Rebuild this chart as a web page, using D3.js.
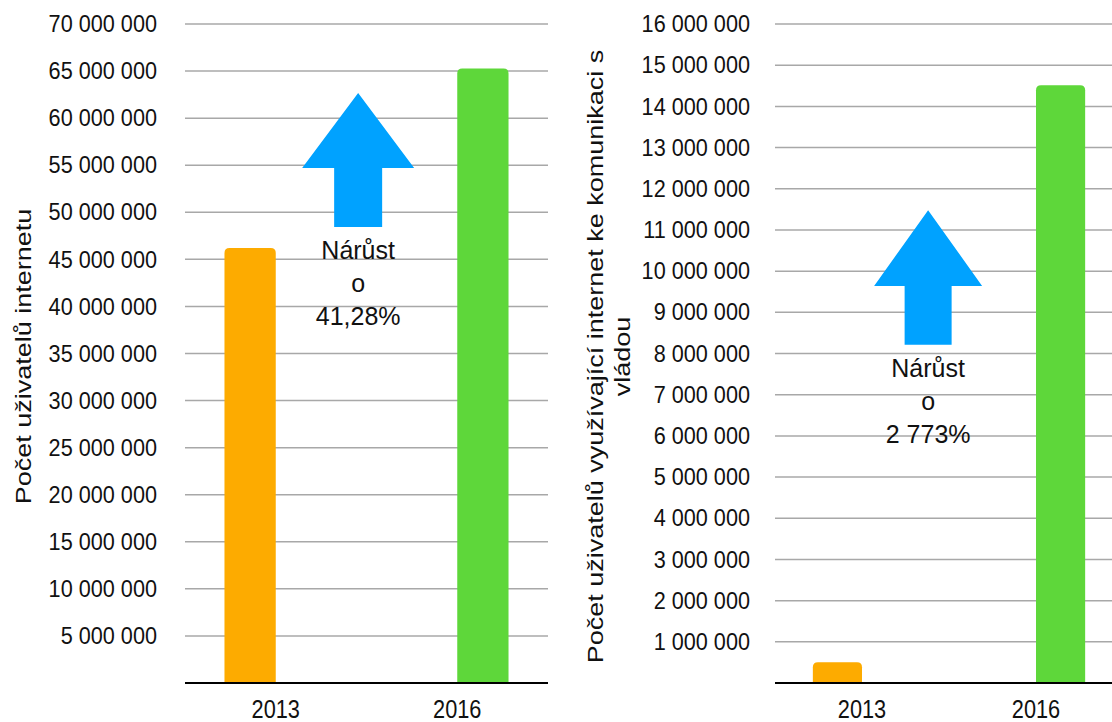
<!DOCTYPE html>
<html>
<head>
<meta charset="utf-8">
<style>
  body { margin: 0; background: #fff; }
  svg text { font-family: "Liberation Sans", Arial, sans-serif; fill: #111; }
</style>
</head>
<body>
<svg></svg>
<script src="https://d3js.org/d3.v7.min.js"></script>
<script>
const width = 1112;
const height = 722;

const categories = ['2013', '2016'];

// chart 1: internet users
const usersValues = [46200000, 65272000];
const usersTicks = [5000000, 10000000, 15000000, 20000000, 25000000, 30000000, 35000000,
  40000000, 45000000, 50000000, 55000000, 60000000, 65000000, 70000000];
const usersTitle = ['Počet uživatelů internetu'];
const usersNote = ['Nárůst', 'o', '41,28%'];

// chart 2: users talking to the government online
const govValues = [505000, 14510000];
const govTicks = [1000000, 2000000, 3000000, 4000000, 5000000, 6000000, 7000000, 8000000,
  9000000, 10000000, 11000000, 12000000, 13000000, 14000000, 15000000, 16000000];
const govTitle = ['Počet uživatelů využívající internet ke komunikaci s', 'vládou'];
const govNote = ['Nárůst', 'o', '2 773%'];

const barColors = ['#FDAB00', '#5ED73A'];
const arrowColor = '#00A2FF';

const fmt = d3.formatLocale({ decimal: ',', thousands: ' ', grouping: [3], currency: ['', ''] }).format(',d');

const svg = d3.select('svg').attr('width', width).attr('height', height);

drawChart({
  values: usersValues, ticks: usersTicks, title: usersTitle, note: usersNote,
  left: 185, right: 548, top: 24, bottom: 683, labelX: 157, titleX: 31,
  arrow: { at: 0.477, tip: 62670000, neck: 54700000, foot: 48440000, head: 56, shaft: 24 }
});

drawChart({
  values: govValues, ticks: govTicks, title: govTitle, note: govNote,
  left: 775, right: 1123, top: 24, bottom: 683, labelX: 750, titleX: 603,
  arrow: { at: 0.44, tip: 11480000, neck: 9640000, foot: 8210000, head: 54, shaft: 23.5 }
});

function drawChart(c) {
  const g = svg.append('g');
  const maxTick = c.ticks[c.ticks.length - 1];

  const y = d3.scaleLinear().domain([0, maxTick]).range([c.bottom, c.top]);
  const x = d3.scaleBand().domain(categories).range([c.left, c.right]);
  const groupW = x.bandwidth() * 0.565;
  // each year is its own series, so the bar sits in its own slot of the group
  const inner = d3.scaleBand().domain(categories).range([0, groupW]);
  const offset = (x.bandwidth() - groupW) / 2;

  // grid
  g.selectAll('.grid').data(c.ticks).enter().append('line')
    .attr('x1', c.left).attr('x2', c.right)
    .attr('y1', d => y(d)).attr('y2', d => y(d))
    .attr('stroke', '#a8a8a8').attr('stroke-width', 1.5);

  g.selectAll('.tick').data(c.ticks).enter().append('text')
    .attr('transform', d => `translate(${c.labelX},${y(d)}) scale(0.93,1)`)
    .attr('dy', '0.35em')
    .attr('text-anchor', 'end').style('font-size', '23.3px')
    .text(d => fmt(d));

  // bars with rounded top corners
  const r = 5;
  g.selectAll('.bar').data(c.values).enter().append('path')
    .attr('fill', (d, i) => barColors[i])
    .attr('d', (d, i) => {
      const x0 = x(categories[i]) + offset + inner(categories[i]);
      const w = inner.bandwidth();
      const y0 = y(d), y1 = y(0);
      return `M${x0},${y1}V${y0 + r}Q${x0},${y0} ${x0 + r},${y0}H${x0 + w - r}Q${x0 + w},${y0} ${x0 + w},${y0 + r}V${y1}Z`;
    });

  // baseline
  g.append('line')
    .attr('x1', c.left).attr('x2', c.right)
    .attr('y1', y(0)).attr('y2', y(0))
    .attr('stroke', '#000').attr('stroke-width', 2);

  g.selectAll('.cat').data(categories).enter().append('text')
    .attr('transform', d => `translate(${x(d) + x.bandwidth() / 2},${y(0) + 35}) scale(0.87,1)`)
    .attr('text-anchor', 'middle').style('font-size', '25px')
    .text(d => d);

  // axis title, rotated; lines stack to the right
  g.selectAll('.title').data(c.title).enter().append('text')
    .attr('transform', (d, i) => `translate(${c.titleX + i * 27},${(c.top + c.bottom) / 2 + 3}) rotate(-90) scale(1,0.84)`)
    .attr('text-anchor', 'middle').style('font-size', '27px')
    .text(d => d);

  // growth arrow
  const a = c.arrow;
  const ax = c.left + a.at * (c.right - c.left);
  g.append('path')
    .attr('fill', arrowColor)
    .attr('d', `M${ax},${y(a.tip)}L${ax + a.head},${y(a.neck)}H${ax + a.shaft}V${y(a.foot)}H${ax - a.shaft}V${y(a.neck)}H${ax - a.head}Z`);

  g.selectAll('.note').data(c.note).enter().append('text')
    .attr('x', ax).attr('y', (d, i) => y(a.foot) + 32 + i * 33)
    .attr('text-anchor', 'middle').style('font-size', '25px')
    .text(d => d);
}
</script>
</body>
</html>
